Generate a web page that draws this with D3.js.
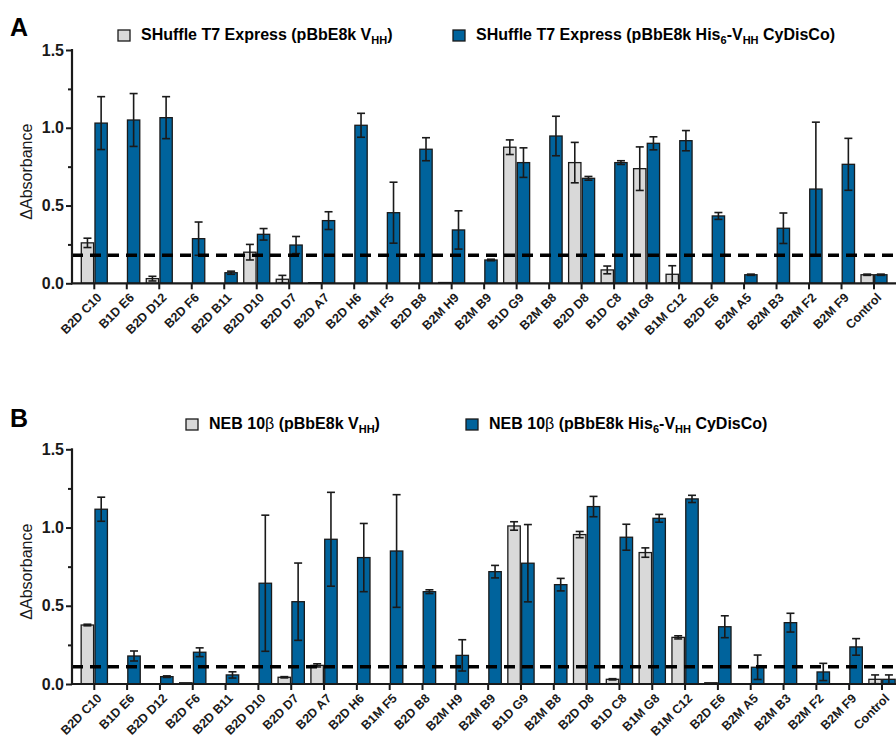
<!DOCTYPE html>
<html>
<head>
<meta charset="utf-8">
<script src="https://cdn.jsdelivr.net/npm/d3@7"></script>
<style>
  body { margin: 0; background: #fff; }
  svg { display: block; font-family: "Liberation Sans", Arial, sans-serif; }
</style>
</head>
<body>
<svg width="896" height="739"></svg>
<script>
// clone names on the x axis
var categories = ["B2D C10", "B1D E6", "B2D D12", "B2D F6", "B2D B11", "B2D D10", "B2D D7", "B2D A7",
  "B2D H6", "B1M F5", "B2D B8", "B2M H9", "B2M B9", "B1D G9", "B2M B8", "B2D D8", "B1D C8", "B1M G8",
  "B1M C12", "B2D E6", "B2M A5", "B2M B3", "B2M F2", "B2M F9", "Control"];

var yTicks = [0, 0.5, 1.0, 1.5];
var yMinorTicks = [0.25, 0.75, 1.25];

// panel A : SHuffle T7 Express
var aVhh    = [0.26, null, 0.03, null, null, 0.20, 0.026, 0.004, null, null, null, 0.005, null, 0.875, null, 0.776, 0.086, 0.737, 0.058, null, null, null, null, null, 0.055];
var aVhhErr = [0.03, null, 0.015, null, null, 0.05, 0.025, 0, null, null, null, 0, null, 0.047, null, 0.13, 0.025, 0.14, 0.055, null, null, null, null, null, 0.004];
var aCyd    = [1.03, 1.05, 1.065, 0.287, 0.068, 0.315, 0.246, 0.403, 1.016, 0.454, 0.862, 0.343, 0.15, 0.776, 0.947, 0.675, 0.776, 0.90, 0.917, 0.433, 0.055, 0.354, 0.606, 0.765, 0.055];
var aCydErr = [0.17, 0.17, 0.135, 0.107, 0.01, 0.037, 0.055, 0.057, 0.077, 0.196, 0.074, 0.123, 0.005, 0.095, 0.127, 0.012, 0.012, 0.042, 0.065, 0.022, 0.004, 0.098, 0.43, 0.167, 0.004];
var aCutoff = 0.18;

// panel B : NEB 10beta
var bVhh    = [0.377, null, null, 0.008, null, null, 0.043, 0.119, null, null, null, null, null, 1.01, null, 0.955, 0.030, 0.84, 0.298, 0.008, null, null, null, null, 0.03];
var bVhhErr = [0.005, null, null, 0, null, null, 0.004, 0.01, null, null, null, null, null, 0.027, null, 0.02, 0.004, 0.03, 0.01, 0, null, null, null, null, 0.028];
var bCyd    = [1.117, 0.179, 0.047, 0.203, 0.058, 0.644, 0.526, 0.925, 0.808, 0.85, 0.59, 0.183, 0.718, 0.772, 0.635, 1.134, 0.938, 1.059, 1.183, 0.366, 0.107, 0.392, 0.077, 0.237, 0.03];
var bCydErr = [0.077, 0.032, 0.005, 0.028, 0.02, 0.435, 0.247, 0.3, 0.218, 0.36, 0.012, 0.1, 0.04, 0.247, 0.04, 0.065, 0.083, 0.025, 0.023, 0.07, 0.078, 0.06, 0.055, 0.053, 0.028];
var bCutoff = 0.11;

var greyFill = "#d9d9d9",
    blueFill = "#00639c",
    ink = "#1a1a1a";

var svg = d3.select("svg");

// write a label made of pieces, some of them subscript
function richText(sel, parts) {
  parts.forEach(function(p) {
    var t = sel.append("tspan").text(p.t);
    if (p.sub) t.attr("font-size", 11).attr("dy", 4);
    if (p.after) t.attr("dy", -4);
    if (p.plain) t.attr("font-weight", "normal");
  });
}

function drawPanel(o) {
  var g = svg.append("g");

  var y = d3.scaleLinear().domain([0, 1.5]).range([o.yBottom, o.yTop]);
  var x = d3.scaleBand().domain(categories).range([o.xStart, o.xEnd]).paddingInner(0.2).paddingOuter(0.2);
  var xSub = d3.scaleBand().domain(["vhh", "cyd"]).range([0, x.bandwidth()]).paddingInner(0.1);

  // panel letter
  g.append("text")
    .attr("x", 10).attr("y", o.letterY)
    .attr("font-size", 25).attr("font-weight", "bold")
    .text(o.letter);

  // legend
  o.legend.forEach(function(l) {
    g.append("rect")
      .attr("x", l.x).attr("y", o.legendY - 10)
      .attr("width", 12).attr("height", 11)
      .attr("fill", l.fill).attr("stroke", ink).attr("stroke-width", 1.3);
    var t = g.append("text")
      .attr("x", l.x + 23).attr("y", o.legendY)
      .attr("font-size", 16).attr("font-weight", "bold");
    richText(t, l.parts);
  });

  // rows for the bars
  var rows = categories.map(function(c, i) {
    return { cat: c, vhh: o.vhh[i], vhhErr: o.vhhErr[i], cyd: o.cyd[i], cydErr: o.cydErr[i] };
  });
  var marks = [];
  rows.forEach(function(r) {
    if (r.vhh != null) marks.push({ cat: r.cat, key: "vhh", v: r.vhh, e: r.vhhErr });
    if (r.cyd != null) marks.push({ cat: r.cat, key: "cyd", v: r.cyd, e: r.cydErr });
  });

  g.append("g").selectAll("rect")
    .data(marks)
    .enter().append("rect")
    .attr("x", d => x(d.cat) + xSub(d.key))
    .attr("width", xSub.bandwidth())
    .attr("y", d => y(d.v))
    .attr("height", d => y(0) - y(d.v))
    .attr("fill", d => d.key == "vhh" ? greyFill : blueFill)
    .attr("stroke", ink)
    .attr("stroke-width", 1.3);

  // error bars
  var errs = marks.filter(d => d.e > 0);
  var eg = g.append("g").attr("stroke", ink).attr("stroke-width", 1.6);
  errs.forEach(function(d) {
    var cx = x(d.cat) + xSub(d.key) + xSub.bandwidth() / 2;
    var hi = y(d.v + d.e), lo = y(Math.max(d.v - d.e, 0));
    eg.append("line").attr("x1", cx).attr("x2", cx).attr("y1", hi).attr("y2", lo);
    eg.append("line").attr("x1", cx - 4).attr("x2", cx + 4).attr("y1", hi).attr("y2", hi);
    eg.append("line").attr("x1", cx - 4).attr("x2", cx + 4).attr("y1", lo).attr("y2", lo);
  });

  // cutoff line
  g.append("line")
    .attr("x1", o.axisX).attr("x2", 896)
    .attr("y1", y(o.cutoff)).attr("y2", y(o.cutoff))
    .attr("stroke", "#000").attr("stroke-width", 3.5)
    .attr("stroke-dasharray", "11,7");

  // y axis
  var yAxis = g.append("g")
    .attr("transform", "translate(" + o.axisX + ",0)")
    .call(d3.axisLeft(y).tickValues(yTicks).tickSize(6).tickFormat(d3.format(".1f")));
  yAxis.select(".domain").remove();
  yAxis.selectAll(".tick line").attr("stroke", ink).attr("stroke-width", 2);
  yAxis.selectAll(".tick text")
    .attr("font-size", 16).attr("font-weight", "bold").attr("fill", ink)
    .attr("font-family", "Liberation Sans, Arial, sans-serif").attr("x", -8);
  g.append("g")
    .attr("transform", "translate(" + o.axisX + ",0)")
    .call(d3.axisLeft(y).tickValues(yMinorTicks).tickSize(4).tickFormat(""))
    .call(s => s.select(".domain").remove())
    .selectAll(".tick line").attr("stroke", ink).attr("stroke-width", 2);
  g.append("line")
    .attr("x1", o.axisX).attr("x2", o.axisX)
    .attr("y1", y(0) + 1).attr("y2", y(1.5) - 1)
    .attr("stroke", ink).attr("stroke-width", 2.2);

  // x axis
  var xAxis = g.append("g")
    .attr("transform", "translate(0," + y(0) + ")")
    .call(d3.axisBottom(x).tickSize(6).tickSizeOuter(0));
  xAxis.select(".domain").remove();
  xAxis.selectAll(".tick line").attr("stroke", ink).attr("stroke-width", 2);
  xAxis.selectAll(".tick text")
    .attr("font-size", 12.5).attr("font-weight", "bold").attr("fill", ink)
    .attr("font-family", "Liberation Sans, Arial, sans-serif")
    .attr("text-anchor", "end")
    .attr("transform", "translate(5,12) rotate(-45)")
    .attr("x", 0).attr("y", 0).attr("dy", "0.35em");
  g.append("line")
    .attr("x1", o.axisX - 1).attr("x2", 896)
    .attr("y1", y(0)).attr("y2", y(0))
    .attr("stroke", ink).attr("stroke-width", 2.2);

  // y title
  g.append("text")
    .attr("transform", "translate(" + (o.axisX - 40) + "," + ((y(0) + y(1.5)) / 2 + 5) + ") rotate(-90)")
    .attr("text-anchor", "middle")
    .attr("font-size", 16)
    .attr("fill", ink)
    .text("\u0394Absorbance");
}

drawPanel({
  letter: "A", letterY: 36, legendY: 40,
  yTop: 50, yBottom: 283.3, axisX: 72, xStart: 74.8, xEnd: 893.5,
  vhh: aVhh, vhhErr: aVhhErr, cyd: aCyd, cydErr: aCydErr, cutoff: aCutoff,
  legend: [
    { x: 118, fill: greyFill, parts: [{ t: "SHuffle T7 Express (pBbE8k V" }, { t: "HH", sub: true }, { t: ")", after: true }] },
    { x: 453, fill: blueFill, parts: [{ t: "SHuffle T7 Express (pBbE8k His" }, { t: "6", sub: true }, { t: "-V", after: true },
      { t: "HH", sub: true }, { t: " CyDisCo)", after: true }] }
  ]
});

drawPanel({
  letter: "B", letterY: 427, legendY: 429,
  yTop: 449.3, yBottom: 684, axisX: 72, xStart: 74.6, xEnd: 901.7,
  vhh: bVhh, vhhErr: bVhhErr, cyd: bCyd, cydErr: bCydErr, cutoff: bCutoff,
  legend: [
    { x: 186, fill: greyFill, parts: [{ t: "NEB 10" }, { t: "\u03b2", plain: true }, { t: " (pBbE8k V" }, { t: "HH", sub: true }, { t: ")", after: true }] },
    { x: 466, fill: blueFill, parts: [{ t: "NEB 10" }, { t: "\u03b2", plain: true }, { t: " (pBbE8k His" }, { t: "6", sub: true }, { t: "-V", after: true },
      { t: "HH", sub: true }, { t: " CyDisCo)", after: true }] }
  ]
});
</script>
</body>
</html>
